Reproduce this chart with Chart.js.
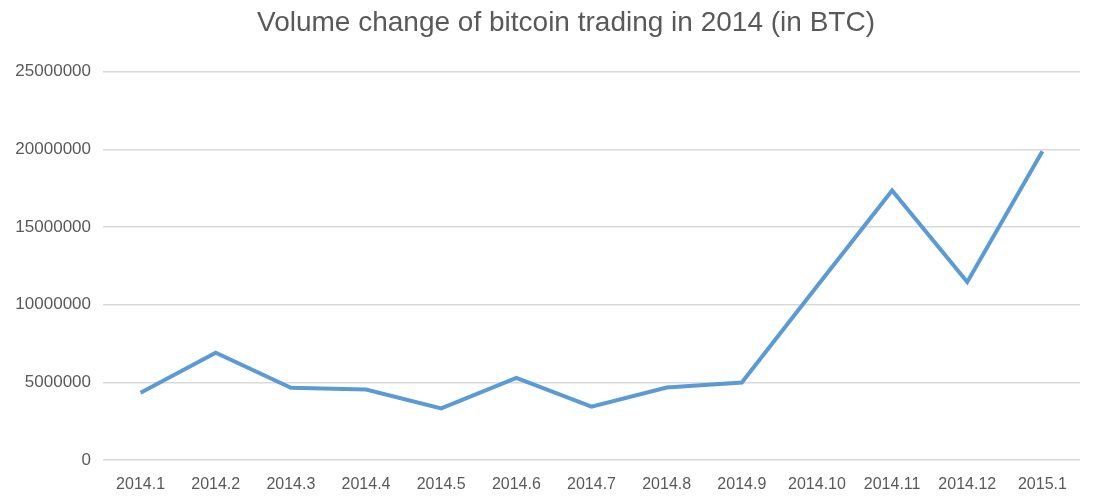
<!DOCTYPE html>
<html>
<head>
<meta charset="utf-8">
<script src="https://cdn.jsdelivr.net/npm/chart.js@4/dist/chart.umd.min.js"></script>
<style>
    html, body { margin: 0; padding: 0; background: #fff; }
    #wrap { width: 1101px; height: 497px; }
</style>
</head>
<body>
<div id="wrap"><canvas id="lineChart"></canvas></div>
<script>
const months = ['2014.1', '2014.2', '2014.3', '2014.4', '2014.5', '2014.6', '2014.7',
    '2014.8', '2014.9', '2014.10', '2014.11', '2014.12', '2015.1'];
const volumes = [4330000, 6900000, 4650000, 4540000, 3320000, 5290000, 3430000,
    4670000, 4990000, 11180000, 17350000, 11460000, 19880000];
const yTicks = [0, 5000000, 10000000, 15000000, 20000000, 25000000];

const lineData = {
    labels: months,
    datasets: [{
        label: 'Volume (BTC)',
        data: volumes,
        borderColor: '#5B9BD5',
        backgroundColor: '#5B9BD5',
        borderWidth: 4,
        pointRadius: 0,
        tension: 0,
        fill: false
    }]
};

// the title in the picture sits a bit right of the canvas centre
const titleShift = {
    id: 'titleShift',
    afterLayout(chart) {
        if (chart.titleBlock) {
            chart.titleBlock.left += 22;
            chart.titleBlock.right += 22;
        }
    }
};

new Chart(
    document.getElementById('lineChart'),
    {
        type: 'line',
        data: lineData,
        plugins: [titleShift],
        options: {
            responsive: true,
            maintainAspectRatio: false,
            animation: false,
            layout: {padding: {left: 8, right: 21, top: 6, bottom: 3}},
            plugins: {
                legend: {display: false},
                tooltip: {enabled: false},
                title: {
                    display: true,
                    text: 'Volume change of bitcoin trading in 2014 (in BTC)',
                    color: '#595959',
                    font: {family: 'Liberation Sans', size: 28, weight: 'normal'},
                    padding: {top: 0, bottom: 32}
                }
            },
            scales: {
                x: {
                    offset: true,
                    afterFit: axis => { axis.height = 34; },
                    grid: {display: false, drawTicks: false},
                    border: {display: false},
                    ticks: {
                        color: '#595959',
                        font: {family: 'Liberation Sans', size: 16},
                        padding: 15,
                        maxRotation: 0,
                        autoSkip: false
                    }
                },
                y: {
                    min: yTicks[0],
                    max: yTicks[yTicks.length - 1],
                    afterBuildTicks: axis => { axis.ticks = yTicks.map(v => ({value: v})); },
                    afterFit: axis => { axis.width = 95; },
                    grid: {color: '#d9d9d9', lineWidth: 1.5, drawTicks: false},
                    border: {display: false},
                    ticks: {
                        color: '#595959',
                        font: {family: 'Liberation Sans', size: 17},
                        padding: 12,
                        callback: v => String(v)
                    }
                }
            }
        }
    }
);
</script>
</body>
</html>
